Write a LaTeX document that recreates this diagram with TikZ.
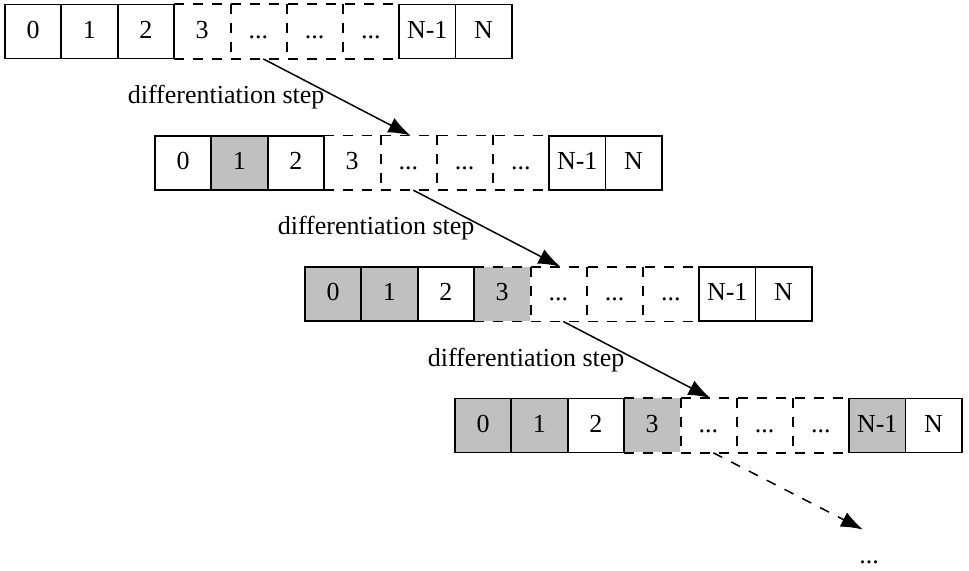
\documentclass[tikz,border=0pt]{standalone}
\usepackage{fontspec}
\setmainfont{Liberation Serif}
\usepackage{xcolor}
\usetikzlibrary{arrows.meta,calc,positioning}
\definecolor{cellgray}{RGB}{192,192,192}

\begin{document}
\begin{tikzpicture}[x=0.5pt,y=-0.5pt,>={Latex[length=11pt,width=8pt]},
  font=\fontsize{13}{15}\selectfont,
  cell/.style={minimum width=28.15pt,minimum height=27pt,inner sep=0pt,text height=0.66em,text depth=0pt},
  solidcell/.style={cell,draw,line width=0.9pt},
  gapline/.style={line width=0.9pt,dash pattern=on 5pt off 4.5pt},
  stepline/.style={->,line width=0.75pt}]
  \useasboundingbox (0,0) rectangle (969,570);
  \foreach \r/\fa/\fb/\fc/\fd in {1/white/white/white/white,2/white/cellgray/white/white,
      3/cellgray/cellgray/cellgray/white,4/cellgray/cellgray/cellgray/cellgray} {
    \pgfmathsetmacro{\xa}{5+150*(\r-1)}
    \pgfmathsetmacro{\yc}{31.5+131.3*(\r-1)}
    % open part of the array first
    \node[cell,fill=\fc] (row\r-3) at (\xa+3.5*56.3,\yc) {3};
    \foreach \i in {4,5,6} {\node[cell] (row\r-\i) at (\xa+\i*56.3+28.15,\yc) {...};}
    \draw[gapline] (row\r-3.north west) -- (row\r-6.north east);
    \draw[gapline] (row\r-3.south west) -- (row\r-6.south east);
    \foreach \i in {3,4,5} {\draw[gapline] (row\r-\i.north east) -- (row\r-\i.south east);}
    % solid cells on top
    \foreach \i/\t/\f in {0/0/\fa,1/1/\fb,2/2/white,7/N-1/\fd,8/N/white}
      {\node[solidcell,fill=\f] (row\r-\i) at (\xa+\i*56.3+28.15,\yc) {\t};}
  }
  \foreach \r/\s in {1/2,2/3,3/4}
    {\draw[stepline] ([xshift=2.5pt]row\r-4.south) -- ([xshift=1pt]row\s-4.north)
      node[midway,left=2.5pt] {differentiation step};}
  \node[cell] (more) at (869,557) {...};
  \draw[stepline,dash pattern=on 5pt off 5pt] ([xshift=2.5pt]row4-4.south) -- ([xshift=-3pt]more.north);
\end{tikzpicture}
\end{document}
